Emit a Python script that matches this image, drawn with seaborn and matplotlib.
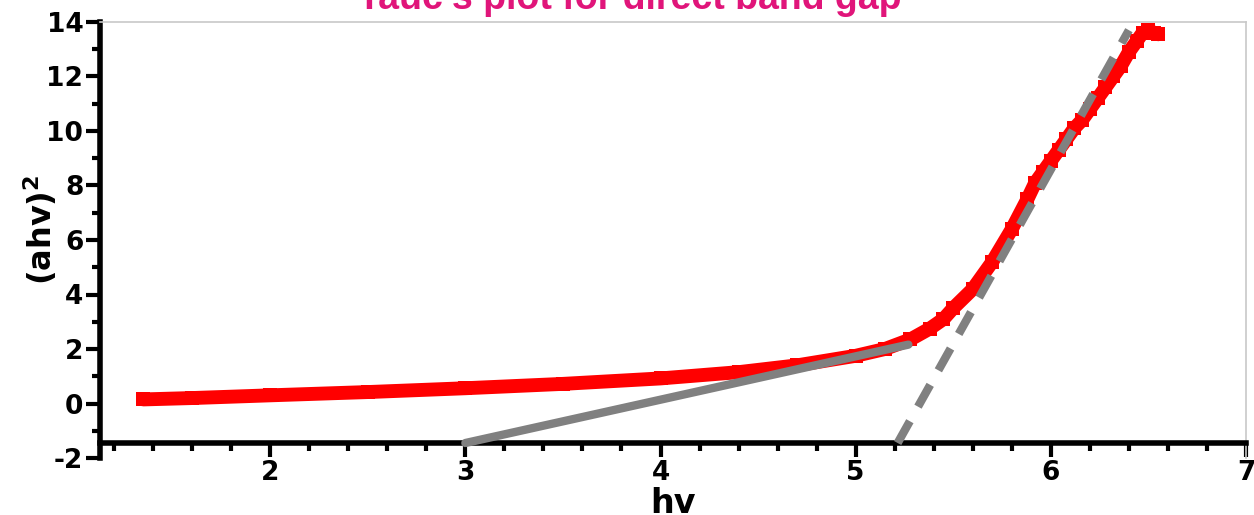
import matplotlib
matplotlib.use("Agg")
import matplotlib.pyplot as plt
import seaborn as sns
import pandas as pd
from matplotlib.ticker import MultipleLocator

# Tauc plot data
hv = [1.35, 1.6, 2.0, 2.5, 3.0, 3.5, 4.0, 4.4, 4.7, 5.0, 5.15, 5.28,
      5.38, 5.45, 5.5, 5.6, 5.7, 5.8, 5.88, 5.92, 5.96, 6.0, 6.04, 6.08,
      6.12, 6.16, 6.2, 6.24, 6.28, 6.32, 6.36, 6.4, 6.44, 6.47, 6.5,
      6.53, 6.55]
ahv2 = [0.15, 0.2, 0.3, 0.42, 0.56, 0.72, 0.92, 1.15, 1.4, 1.75, 2.0, 2.35,
        2.75, 3.1, 3.5, 4.2, 5.2, 6.4, 7.5, 8.1, 8.5, 8.9, 9.3, 9.7,
        10.1, 10.4, 10.8, 11.2, 11.6, 12.0, 12.4, 12.9, 13.3, 13.6, 13.7,
        13.6, 13.55]

# linear fit of the absorption tail and tangent of the edge
tail_x = [3.0, 5.27]
tail_y = [-1.45, 2.16]
edge_x = [5.215, 6.40]
edge_y = [-1.45, 13.7]

x_ticks = [2, 3, 4, 5, 6, 7]
y_ticks = [-2, 0, 2, 4, 6, 8, 10, 12, 14]

sns.set_style('ticks')
plt.rcParams['font.family'] = ['DejaVu Sans']
plt.rcParams['font.weight'] = 'bold'
plt.rcParams['axes.unicode_minus'] = False
plt.rcParams['text.color'] = 'black'
plt.rcParams['xtick.color'] = 'black'
plt.rcParams['ytick.color'] = 'black'

fig = plt.figure(figsize=(12.54, 5.15), dpi=100)
ax = fig.add_axes([100 / 1254, 1 - 458 / 515, 1146 / 1254, 436 / 515])

df = pd.DataFrame({'hv': hv, 'ahv2': ahv2})
sns.lineplot(data=df, x='hv', y='ahv2', ax=ax, color='#ff0000', lw=10,
             marker='s', markersize=10, markeredgewidth=0, zorder=2)
sns.lineplot(x=tail_x, y=tail_y, ax=ax, color='#808080', lw=6, zorder=3)
sns.lineplot(x=edge_x, y=edge_y, ax=ax, color='#808080', lw=6,
             zorder=3).lines[-1].set_dashes([3, 2])

ax.set_xlim(1.128, 7.0)
ax.set_ylim(-2, 14)
ax.set_xticks(x_ticks)
ax.set_yticks(y_ticks)
ax.xaxis.set_minor_locator(MultipleLocator(0.2))
ax.yaxis.set_minor_locator(MultipleLocator(1))

ax.spines['bottom'].set_position(('data', -1.45))
for side in ['bottom', 'left']:
    ax.spines[side].set_linewidth(4)
    ax.spines[side].set_color('black')
for side in ['top', 'right']:
    ax.spines[side].set_linewidth(1.2)
    ax.spines[side].set_color('#c8c8c8')

ax.tick_params(which='major', direction='out', length=10, width=3,
               labelsize=19, labelcolor='black', color='black', pad=2)
ax.tick_params(which='minor', direction='out', length=6, width=3,
               color='black')
ax.tick_params(top=False, right=False, which='both')
for lab in ax.get_xticklabels() + ax.get_yticklabels():
    lab.set_fontweight('bold')

ax.set_xlabel('')
ax.set_ylabel('')
fig.text(673 / 1254, 2 / 515, 'hv', ha='center', va='baseline',
         fontsize=24, fontweight='bold', color='black')
fig.text(40 / 1254, 1 - 230 / 515, '(ahv)$^\\mathbf{2}$', ha='center',
         va='center', rotation=90, fontsize=23, fontweight='bold',
         color='black')

fig.text(630 / 1254, 1 - 9 / 515, "Tauc's plot for direct band gap",
         ha='center', va='baseline', fontsize=27, fontweight='bold',
         color='#e0157a', family=['Liberation Sans', 'DejaVu Sans'])

fig.savefig('out.png', dpi=100)
